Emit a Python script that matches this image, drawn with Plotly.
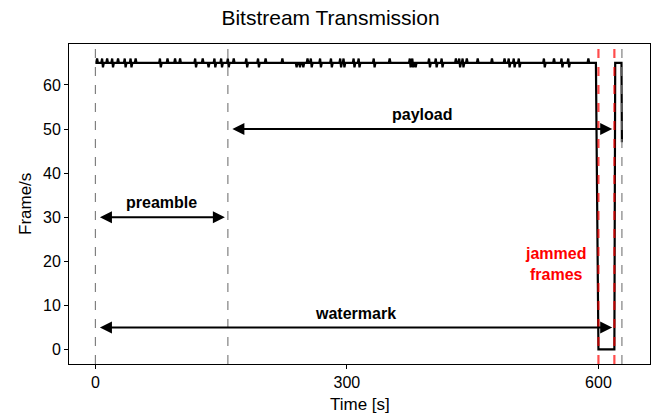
import plotly.graph_objects as go

# ---- data ----
base_fps = 65
# small fluctuations of the frame rate: (time [s], kind) ; u = up to 66, d = down to 64, ud = both
glitch_times = [2, 8, 14, 20, 27, 35, 42, 48, 77, 86, 95, 101, 119, 128, 135, 142,
                150, 158, 165, 180, 194, 203, 223, 240, 244, 248, 253, 257, 268, 281, 292,
                296, 308, 314, 332, 351, 375, 378, 382, 398, 406, 413, 430, 434, 438,
                443, 456, 473, 488, 493, 499, 505, 535, 547, 556, 564, 588]
glitch_kinds = ["u", "ud", "u", "ud", "u", "ud", "ud", "u", "ud", "u", "u", "u", "ud", "u", "d", "ud",
                "ud", "ud", "u", "ud", "ud", "u", "u", "d", "d", "d", "u", "ud", "ud", "ud", "ud",
                "ud", "ud", "ud", "ud", "u", "ud", "ud", "d", "ud", "ud", "ud", "u", "ud", "ud",
                "u", "u", "u", "u", "ud", "ud", "ud", "ud", "u", "ud", "ud", "u"]
# end of the stream: jamming drop and recovery
tail_times = [597, 600, 619, 620, 627.5, 628]
tail_values = [65, 0, 0, 65, 65, 47]

markers_gray = [0, 158, 628]
markers_red = [600, 619]

spans = [  # label, start, end, arrow y, label y
    ("preamble", 0, 158, 30, 33.3),
    ("payload", 158, 620, 50, 53.2),
    ("watermark", 0, 620, 5, 8.2),
]
jam_label = "jammed<br>frames"
jam_pos = (549, 19.5)

x_ticks = [0, 300, 600]
y_ticks = [0, 10, 20, 30, 40, 50, 60]

# ---- build series ----
xs, ys = [0], [base_fps]
for t, k in zip(glitch_times, glitch_kinds):
    xs.append(t - 1); ys.append(base_fps)
    if k == "u":
        xs += [t, t + 1]; ys += [66, base_fps]
    elif k == "d":
        xs += [t, t + 1]; ys += [64, base_fps]
    else:
        xs += [t, t + 1, t + 2]; ys += [66, 64, base_fps]
xs += tail_times
ys += tail_values

font_family = "Liberation Sans, Arial, Helvetica, sans-serif"

fig = go.Figure()
fig.add_trace(go.Scatter(x=xs, y=ys, mode="lines",
                         line=dict(color="black", width=2.2), showlegend=False,
                         hoverinfo="skip"))

shapes = []
for xv in markers_gray:
    shapes.append(dict(type="line", xref="x", yref="paper", x0=xv, x1=xv, y0=0, y1=1,
                       line=dict(color="gray", width=1.2, dash="dash"), layer="above"))
for xv in markers_red:
    shapes.append(dict(type="line", xref="x", yref="paper", x0=xv, x1=xv, y0=0, y1=1,
                       line=dict(color="rgba(255,0,0,0.7)", width=2.2, dash="dash"), layer="above"))

annotations = []
for label, a, b, yv, ty in spans:
    annotations.append(dict(x=b, y=yv, ax=a, ay=yv, xref="x", yref="y", axref="x", ayref="y",
                            text="", showarrow=True, arrowhead=2, startarrowhead=2,
                            arrowside="end+start", arrowsize=1.2, startarrowsize=1.2,
                            arrowwidth=2, arrowcolor="black", standoff=3, startstandoff=3))
    annotations.append(dict(x=(a + b) / 2, y=ty, xref="x", yref="y", text="<b>%s</b>" % label,
                            showarrow=False, font=dict(size=16, color="black", family=font_family),
                            yanchor="middle"))
annotations.append(dict(x=jam_pos[0], y=jam_pos[1], xref="x", yref="y", text="<b>%s</b>" % jam_label,
                        showarrow=False, font=dict(size=16, color="red", family=font_family),
                        align="center", yanchor="middle"))
# axis titles
annotations.append(dict(x=0.5, y=-40, xref="paper", yref="paper", yshift=0,
                        text="Time [s]", showarrow=False, xanchor="center", yanchor="middle",
                        font=dict(size=17, color="black", family=font_family)))
annotations.append(dict(x=0, y=0.5, xref="paper", yref="paper", xshift=-44,
                        text="Frame/s", showarrow=False, textangle=-90,
                        xanchor="center", yanchor="middle",
                        font=dict(size=17, color="black", family=font_family)))
# place Time [s] label in pixels below the plot area
annotations[-2].update(y=0, yshift=-40)

fig.update_layout(
    width=661, height=417,
    margin=dict(l=69, r=11, t=44, b=53),
    paper_bgcolor="white", plot_bgcolor="white",
    title=dict(text="Bitstream Transmission", x=0.5, xanchor="center", y=0.957, yanchor="middle",
               font=dict(size=21, color="black", family=font_family)),
    font=dict(family=font_family, color="black", size=16),
    shapes=shapes, annotations=annotations,
    xaxis=dict(range=[-31.5, 661.5], tickvals=x_ticks, showgrid=False, zeroline=False,
               showline=True, linecolor="black", linewidth=1, mirror=True,
               ticks="outside", ticklen=4, tickcolor="black", automargin=False),
    yaxis=dict(range=[-3.3, 69.3], tickvals=y_ticks, showgrid=False, zeroline=False,
               showline=True, linecolor="black", linewidth=1, mirror=True,
               ticks="outside", ticklen=4, tickcolor="black", automargin=False),
)

fig.write_html("out.html")
